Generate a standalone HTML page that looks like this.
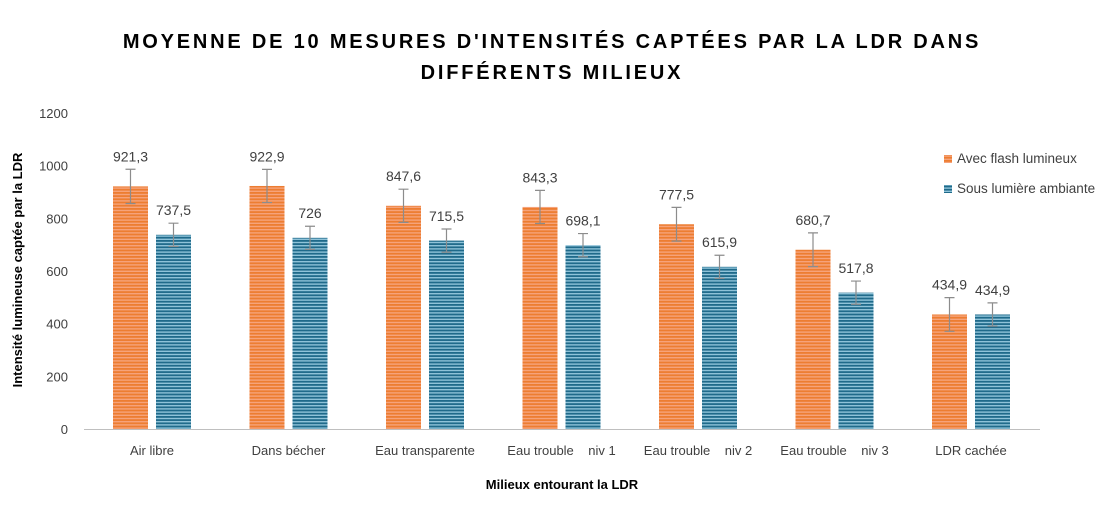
<!DOCTYPE html>
<html><head><meta charset="utf-8"><style>
body{margin:0;background:#fff;font-family:"Liberation Sans",sans-serif}
svg text{font-family:"Liberation Sans",sans-serif}
</style></head><body>
<svg width="1110" height="505">
<defs>
<pattern id="po" width="4" height="3.2" patternUnits="userSpaceOnUse"><rect width="4" height="3.2" fill="#f6a37a"/><rect width="4" height="1.8" fill="#ed7d31"/></pattern>
<pattern id="pb" width="4" height="3.2" patternUnits="userSpaceOnUse"><rect width="4" height="3.2" fill="#8fc3d9"/><rect width="4" height="1.8" fill="#1f6a8a"/></pattern>
</defs>
<text x="552" y="48" text-anchor="middle" font-size="20" font-weight="bold" letter-spacing="2.8" fill="#000">MOYENNE DE 10 MESURES D'INTENSITÉS CAPTÉES PAR LA LDR DANS</text>
<text x="552" y="79" text-anchor="middle" font-size="20" font-weight="bold" letter-spacing="2.8" fill="#000">DIFFÉRENTS MILIEUX</text>
<g id="yaxis"></g>
<g id="bars"></g>
<line x1="84" y1="429.5" x2="1040" y2="429.5" stroke="#bfbfbf"/>
<text x="22" y="270" transform="rotate(-90 22 270)" text-anchor="middle" font-size="13" font-weight="bold" fill="#000">Intensité lumineuse captée par la LDR</text>
<text x="562" y="489" text-anchor="middle" font-size="13" font-weight="bold" fill="#000">Milieux entourant la LDR</text>
<g><rect x="944" y="155" width="8" height="8" fill="url(#po)"/><text x="957" y="163" font-size="13.5" fill="#404040">Avec flash lumineux</text></g>
<g><rect x="944" y="185" width="8" height="8" fill="url(#pb)"/><text x="957" y="193" font-size="13.5" fill="#404040">Sous lumière ambiante</text></g>
</svg>
<script>
const categories=["Air libre","Dans bécher","Eau transparente","Eau trouble    niv 1","Eau trouble    niv 2","Eau trouble    niv 3","LDR cachée"];
const flash=[921.3,922.9,847.6,843.3,777.5,680.7,434.9];
const ambiante=[737.5,726,715.5,698.1,615.9,517.8,434.9];
const flashErr=[65,63,63,63,64,64,64];
const ambErr=[44,44,44,44,44,44,44];
const yTicks=[0,200,400,600,800,1000,1200];
const NS="http://www.w3.org/2000/svg";
const y=v=>429-v*(316/1200);
const cx=i=>152+i*136.5;
function mk(t,a,p){const e=document.createElementNS(NS,t);for(const k in a)e.setAttribute(k,a[k]);p.appendChild(e);return e;}
const ya=document.getElementById('yaxis');
yTicks.forEach(t=>{const e=mk('text',{x:68,y:y(t)+5,'text-anchor':'end','font-size':13,fill:'#404040'},ya);e.textContent=t;

});
const g=document.getElementById('bars');
function bar(x,v,err,fill,name){
 const r=mk('rect',{x:x,y:y(v),width:35,height:429-y(v),fill:fill},g);
 
 
 const m=x+17.5;
 const eb=mk('path',{d:`M${m},${y(v+err)}V${y(v-err)}M${m-5},${y(v+err)}H${m+5}M${m-5},${y(v-err)}H${m+5}`,stroke:'#8c8c8c','stroke-width':1.2,fill:'none'},g);
 
 
 const t=mk('text',{x:m,y:y(v+err)-8,'text-anchor':'middle','font-size':14,fill:'#404040'},g);
 t.textContent=String(v).replace('.',',');
 
 
}
categories.forEach((c,i)=>{
 bar(cx(i)-39,flash[i],flashErr[i],'url(#po)','bar-flash');
 bar(cx(i)+4,ambiante[i],ambErr[i],'url(#pb)','bar-ambiante');
 const t=mk('text',{x:cx(i),y:455,'text-anchor':'middle','font-size':13,fill:'#404040','xml:space':'preserve'},g);
 t.style.whiteSpace='pre';
 t.textContent=c;
 
 
});
</script>
</body></html>
